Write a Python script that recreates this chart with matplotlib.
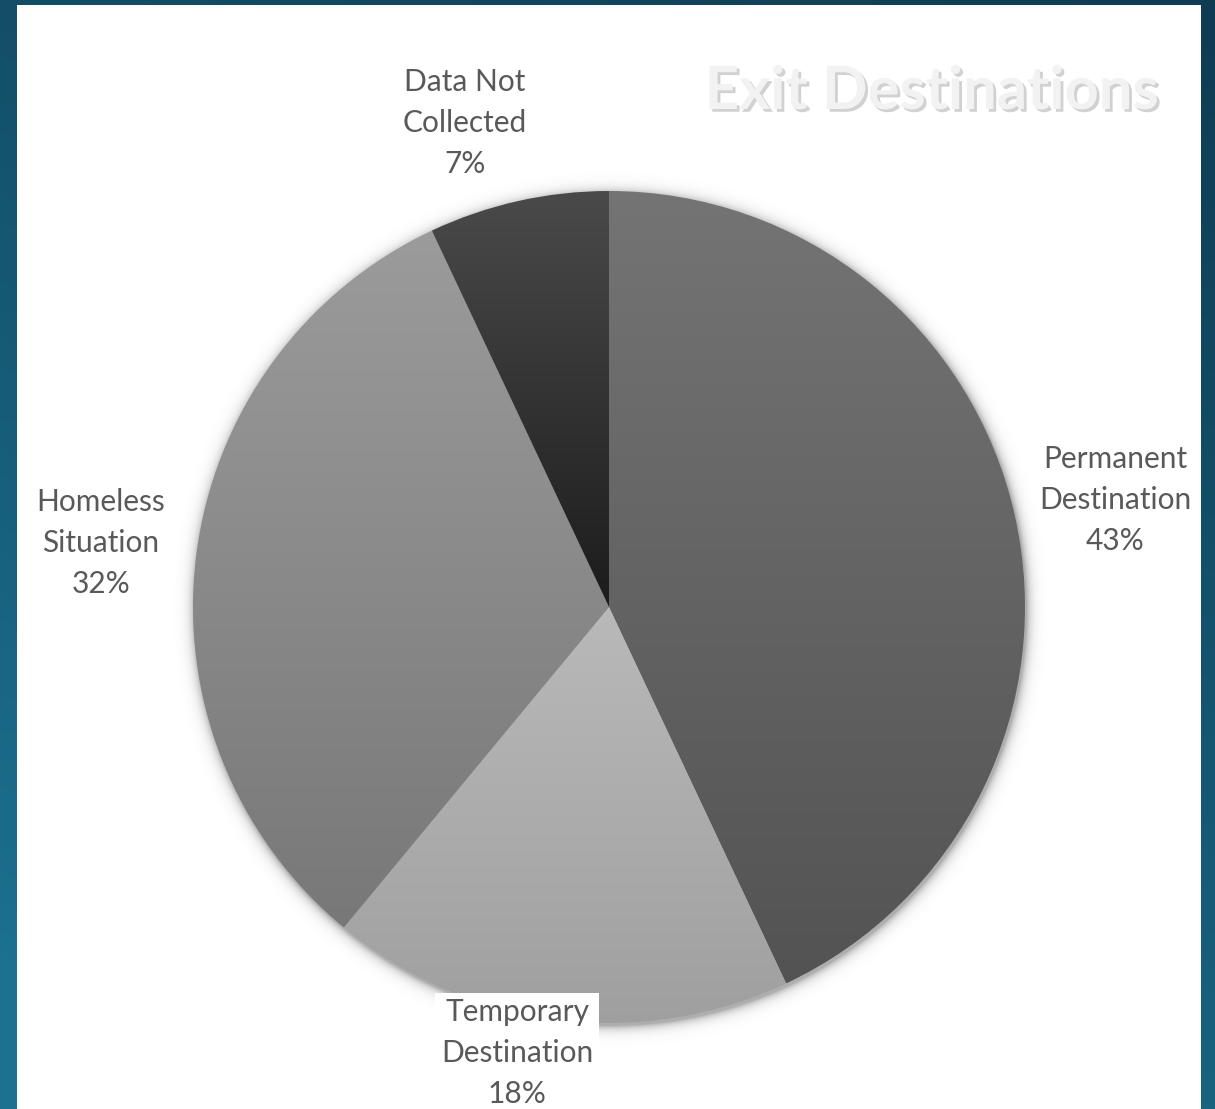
import numpy as np
import matplotlib
matplotlib.use("Agg")
import matplotlib.pyplot as plt
import matplotlib.patheffects as pe
from matplotlib.colors import LinearSegmentedColormap

# Exit destinations, share of exits
categories = ["Permanent\nDestination", "Temporary\nDestination",
              "Homeless\nSituation", "Data Not\nCollected"]
shares = [43, 18, 32, 7]
pct_labels = ["43%", "18%", "32%", "7%"]

# top / bottom colour of each slice gradient
slice_tops = ["#747474", "#b9b9b9", "#9b9b9b", "#4a4a4a"]
slice_bottoms = ["#535353", "#9f9f9f", "#787878", "#1c1c1c"]

W, H = 1215, 1109
fig = plt.figure(figsize=(W / 100, H / 100), dpi=100)

# teal backdrop
bg = fig.add_axes([0, 0, 1, 1])
yy, xx = np.mgrid[0:1:200j, 0:1:200j]
t = np.clip(0.75 * yy + 0.35 * (1 - xx), 0, 1)
bg_cmap = LinearSegmentedColormap.from_list("bg", ["#0e3c52", "#1c7090"])
bg.imshow(t, cmap=bg_cmap, extent=[0, W, 0, H], origin="upper", aspect="auto")
bg.set_xlim(0, W)
bg.set_ylim(0, H)
bg.axis("off")

ax = fig.add_axes([0, 0, 1, 1])
ax.set_xlim(0, W)
ax.set_ylim(0, H)
ax.axis("off")

# white chart area
ax.add_patch(plt.Rectangle((17, 0), 1184, H - 5, facecolor="white",
                           edgecolor="none", zorder=0))

cx, cy, R = 609, H - 607, 416

# soft shadow around the pie
sy, sx = np.mgrid[H:0:-1, 0:W]
d = np.hypot(sx - (cx + 1), sy - (cy - 2)) - R
alpha = np.where(d > 0, 0.32 * np.exp(-d / 5.0), 0.32)
shadow = np.zeros((H, W, 4))
shadow[..., 3] = alpha
ax.imshow(shadow, extent=[0, W, 0, H], origin="upper", zorder=1, aspect="auto")

wedges, _ = ax.pie(shares, center=(cx, cy), radius=R, startangle=90,
                   counterclock=False, frame=True,
                   wedgeprops=dict(facecolor="none", edgecolor="none",
                                   zorder=2))
ax.set_xlim(0, W)
ax.set_ylim(0, H)
ax.set_aspect("auto")
ax.axis("off")

# vertical gradient fill clipped to every wedge
grad = np.linspace(0, 1, 256).reshape(-1, 1)
for w, top, bot in zip(wedges, slice_tops, slice_bottoms):
    verts = w.get_path().vertices
    ylo, yhi = verts[:, 1].min(), verts[:, 1].max()
    cm = LinearSegmentedColormap.from_list("g", [top, bot])
    im = ax.imshow(grad, cmap=cm, extent=[cx - R, cx + R, ylo, yhi],
                   origin="upper", aspect="auto", zorder=3)
    im.set_clip_path(w)

# data labels
label_pos = [(1115, 500), (517, 1053), (101, 543), (465, 123)]
for name, pct, (lx, ly) in zip(categories, pct_labels, label_pos):
    kw = {}
    if name.startswith("Temporary"):
        kw["bbox"] = dict(facecolor="white", edgecolor="none", pad=4)
    ax.text(lx, H - ly, f"{name}\n{pct}", ha="center", va="center",
            fontsize=21.5, color="#595959", family="Lato", linespacing=1.55,
            zorder=5, **kw)

ax.text(932, H - 92, "Exit Destinations", ha="center", va="center",
        fontsize=43, fontweight="bold", family="Lato", color="#f2f2f2",
        zorder=6,
        path_effects=[pe.withSimplePatchShadow(offset=(2, -2),
                                               shadow_rgbFace="#999999",
                                               alpha=0.45)])

fig.savefig("out.png", dpi=100)
